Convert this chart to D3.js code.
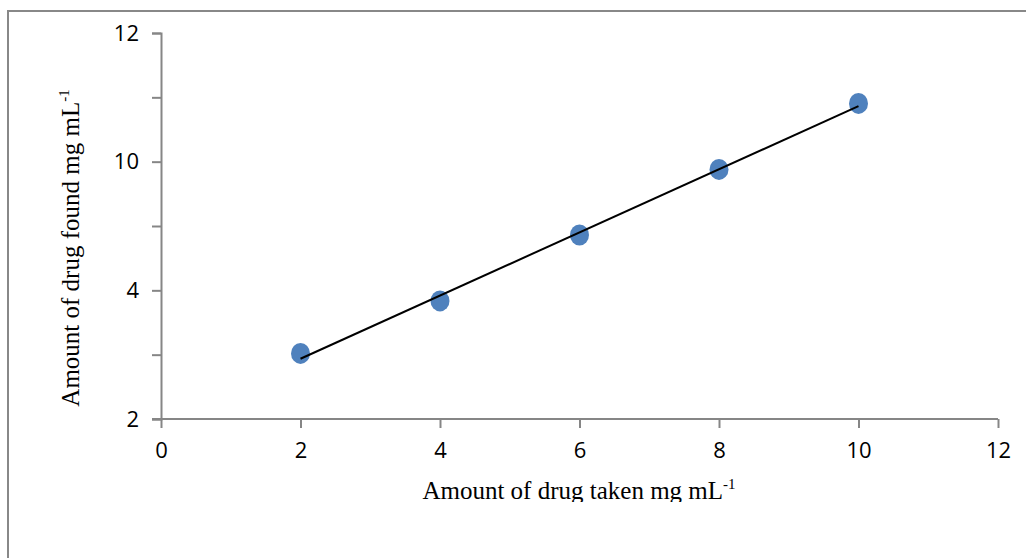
<!DOCTYPE html>
<html>
<head>
<meta charset="utf-8">
<script src="https://cdn.jsdelivr.net/npm/d3@7"></script>
<style>
  body { margin: 0; background: #fff; }
  svg { display: block; }
</style>
</head>
<body>
<svg id="chart" width="1026" height="558"></svg>
<script>
// data
const drugTaken = [2, 4, 6, 8, 10]
const drugFound = [2.04, 3.67, 5.72, 7.76, 9.81]

const xTicks = [0, 2, 4, 6, 8, 10, 12]
const yTicks = [0, 2, 4, 6, 8, 10, 12]
// the y axis labels printed in the figure (only every other tick is labelled)
const yTickLabels = { 12: '12', 8: '10', 4: '4', 0: '2' }

const svg = d3.select('#chart')

const axisColor = '#868686'
const tickFont = '"Open Sans", sans-serif'
const titleFont = '"Liberation Serif", "Times New Roman", serif'

// outer frame (only top and left edges are visible)
svg.append('path')
    .attr('d', 'M 8 558 L 8 11 L 1026 11')
    .attr('fill', 'none')
    .attr('stroke', '#888')
    .attr('stroke-width', 2)

const x = d3.scaleLinear().domain([0, 12]).range([161, 998])
const y = d3.scaleLinear().domain([0, 12]).range([419, 33])

// y axis
const yAxis = svg.append('g')
    .attr('transform', `translate(${x(0)},0)`)
    .call(d3.axisLeft(y).tickValues(yTicks).tickSize(9).tickPadding(13)
        .tickFormat(d => yTickLabels[d] || ''))
yAxis.select('.domain').attr('stroke', axisColor).attr('stroke-width', 2)
yAxis.selectAll('.tick line').attr('stroke', axisColor).attr('stroke-width', 2)
yAxis.selectAll('.tick text')
    .attr('fill', '#000')
    .style('font-family', tickFont)
    .style('font-size', '22px')

// x axis
const xAxis = svg.append('g')
    .attr('transform', `translate(0,${y(0)})`)
    .call(d3.axisBottom(x).tickValues(xTicks).tickSize(9).tickPadding(14))
xAxis.select('.domain').attr('stroke', axisColor).attr('stroke-width', 2)
    .attr('d', `M${x(0) - 9},0H${x(12)}`)
xAxis.selectAll('.tick line').attr('stroke', axisColor).attr('stroke-width', 2)
xAxis.selectAll('.tick text')
    .attr('fill', '#000')
    .style('font-family', tickFont)
    .style('font-size', '22px')

// least squares trend line through the points
const n = drugTaken.length
const mx = d3.mean(drugTaken), my = d3.mean(drugFound)
let sxy = 0, sxx = 0
for (let i = 0; i < n; i++) {
    sxy += (drugTaken[i] - mx) * (drugFound[i] - my)
    sxx += (drugTaken[i] - mx) ** 2
}
const slope = sxy / sxx
const intercept = my - slope * mx
const x0 = d3.min(drugTaken), x1 = d3.max(drugTaken)

// points
svg.append('g').selectAll('ellipse')
    .data(drugTaken.map((d, i) => ({ x: d, y: drugFound[i] })))
    .join('ellipse')
    .attr('cx', d => x(d.x))
    .attr('cy', d => y(d.y))
    .attr('rx', 9.5)
    .attr('ry', 10.5)
    .attr('fill', '#4f81bd')

svg.append('line')
    .attr('x1', x(x0)).attr('y1', y(intercept + slope * x0))
    .attr('x2', x(x1)).attr('y2', y(intercept + slope * x1))
    .attr('stroke', '#000')
    .attr('stroke-width', 2)

// axis titles (the figure crops the bottom of the x title)
svg.append('clipPath').attr('id', 'titleClip')
    .append('rect').attr('x', 0).attr('y', 0).attr('width', 1026).attr('height', 502)

const xTitle = svg.append('text')
    .attr('x', 579).attr('y', 499)
    .attr('clip-path', 'url(#titleClip)')
    .attr('text-anchor', 'middle')
    .style('font-family', titleFont)
    .style('font-size', '25px')
xTitle.append('tspan').text('Amount of drug taken mg mL')
xTitle.append('tspan').attr('dy', -10).style('font-size', '15px').text('-1')

const yTitle = svg.append('text')
    .attr('transform', 'translate(79,248) rotate(-90)')
    .attr('text-anchor', 'middle')
    .style('font-family', titleFont)
    .style('font-size', '25px')
yTitle.append('tspan').text('Amount of drug found mg mL')
yTitle.append('tspan').attr('dy', -10).style('font-size', '15px').text('-1')
</script>
</body>
</html>
